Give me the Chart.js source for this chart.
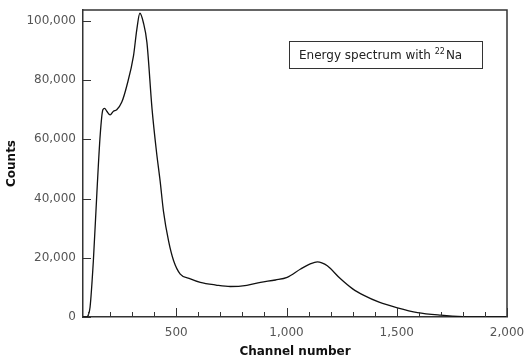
<!DOCTYPE html>
<html>
<head>
<meta charset="utf-8">
<script src="https://cdn.jsdelivr.net/npm/chart.js@4.4.0/dist/chart.umd.min.js"></script>
<style>
  html, body { margin: 0; padding: 0; background: #fff; }
  #wrap { width: 524px; height: 359px; }
</style>
</head>
<body>
<div id="wrap"><canvas id="spectrumChart"></canvas></div>
<script>
// data
var channels = [77, 95, 100, 109, 124, 140, 155, 167, 175, 185, 200, 215, 230, 253, 276, 306, 321, 335, 351, 367, 390, 410, 427, 442, 465, 488, 518, 564, 609, 680, 745, 820, 882, 950, 1003, 1064, 1110, 1140, 1160, 1185, 1245, 1300, 1351, 1420, 1503, 1594, 1700, 1800, 1900, 2000];
var counts = [0, 0, 500, 3300, 19000, 42000, 61500, 70000, 70500, 69500, 68300, 69500, 70000, 72600, 78200, 88200, 97100, 102600, 99400, 92700, 70400, 56000, 45800, 35700, 25700, 19000, 14500, 12900, 11700, 10800, 10300, 10700, 11700, 12500, 13400, 16200, 18000, 18600, 18300, 17300, 12900, 9500, 7300, 5000, 3100, 1500, 600, 100, 0, 0];
var xTicks = [500, 1000, 1500, 2000];
var yTicks = [0, 20000, 40000, 60000, 80000, 100000];
var legendText = 'Energy spectrum with ';

var points = channels.map(function (c, i) {
    return { x: c, y: counts[i] };
});

// frame, inward ticks and the label box
var decor = {
    id: 'decor',
    afterDraw: function (chart) {
        var ctx = chart.ctx;
        var a = chart.chartArea;
        var xs = chart.scales.x;
        var ys = chart.scales.y;
        ctx.save();
        ctx.strokeStyle = '#333';
        ctx.lineWidth = 1.5;
        ctx.beginPath();
        ctx.moveTo(a.left, a.top);
        ctx.lineTo(a.right, a.top);
        ctx.lineTo(a.right, a.bottom);
        ctx.stroke();

        ctx.lineWidth = 1;
        ctx.beginPath();
        for (var c = 100; c <= 2000; c += 100) {
            var px = Math.round(xs.getPixelForValue(c)) + 0.5;
            var len = (c % 500 === 0) ? 9 : 5;
            ctx.moveTo(px, a.bottom);
            ctx.lineTo(px, a.bottom - len);
        }
        yTicks.forEach(function (v) {
            var py = Math.round(ys.getPixelForValue(v)) + 0.5;
            ctx.moveTo(a.left, py);
            ctx.lineTo(a.left + 8, py);
        });
        ctx.stroke();

        // label box
        ctx.fillStyle = '#fff';
        ctx.fillRect(289, 41, 193, 27);
        ctx.strokeStyle = '#333';
        ctx.strokeRect(289.5, 41.5, 193, 27);
        ctx.fillStyle = '#222';
        ctx.textBaseline = 'alphabetic';
        ctx.font = '12px "DejaVu Sans"';
        ctx.fillText(legendText, 299, 59);
        var w = ctx.measureText(legendText).width;
        ctx.font = '8px "DejaVu Sans"';
        ctx.fillText('22', 299 + w, 54);
        var w2 = ctx.measureText('22').width;
        ctx.font = '12px "DejaVu Sans"';
        ctx.fillText('Na', 299 + w + w2 + 1, 59);
        ctx.restore();
    }
};

var ctx = document.getElementById('spectrumChart').getContext('2d');
var myChart = new Chart(ctx, {
    type: 'line',
    data: {
        datasets: [{
            data: points,
            borderColor: '#111',
            borderWidth: 1.3,
            pointRadius: 0,
            cubicInterpolationMode: 'monotone',
            fill: false
        }]
    },
    options: {
        responsive: true,
        maintainAspectRatio: false,
        animation: false,
        layout: { padding: { top: 10, right: 17, left: 5, bottom: 0 } },
        plugins: {
            legend: { display: false },
            tooltip: { enabled: false }
        },
        scales: {
            x: {
                type: 'linear',
                min: 77,
                max: 2000,
                afterBuildTicks: function (scale) {
                    scale.ticks = xTicks.map(function (v) { return { value: v }; });
                },
                afterFit: function (scale) {
                    scale.height = 42;
                    scale.paddingRight = 0;
                    scale.paddingLeft = 0;
                },
                grid: { display: false, drawTicks: false },
                border: { display: true, color: '#333', width: 1.5 },
                ticks: {
                    color: '#555',
                    padding: 9,
                    maxRotation: 0,
                    font: { family: 'DejaVu Sans', size: 12 },
                    callback: function (v) { return v.toLocaleString('en-US'); }
                },
                title: {
                    display: true,
                    text: 'Channel number',
                    color: '#111',
                    padding: { top: 0, bottom: 0 },
                    font: { family: 'DejaVu Sans', size: 12, weight: 'bold' }
                }
            },
            y: {
                min: 0,
                max: 103700,
                afterBuildTicks: function (scale) {
                    scale.ticks = yTicks.map(function (v) { return { value: v }; });
                },
                afterFit: function (scale) {
                    scale.width = 78;
                    scale.paddingTop = 0;
                    scale.paddingBottom = 0;
                },
                grid: { display: false, drawTicks: false },
                border: { display: true, color: '#333', width: 1.5 },
                ticks: {
                    color: '#555',
                    padding: 7,
                    font: { family: 'DejaVu Sans', size: 12 },
                    callback: function (v) { return v.toLocaleString('en-US'); }
                },
                title: {
                    display: true,
                    text: 'Counts',
                    color: '#111',
                    padding: { top: 0, bottom: 0 },
                    font: { family: 'DejaVu Sans', size: 12, weight: 'bold' }
                }
            }
        }
    },
    plugins: [decor]
});
</script>
</body>
</html>
